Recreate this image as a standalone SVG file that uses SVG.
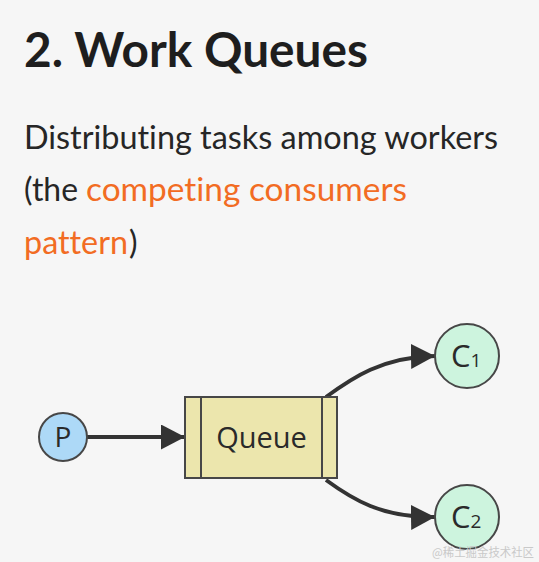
<svg xmlns="http://www.w3.org/2000/svg" width="539" height="562" viewBox="0 0 539 562">
<defs>
<style>
.title{font-family:Lato,"Open Sans","Liberation Sans",sans-serif;font-weight:700;fill:#1e1e1e;font-variant-ligatures:none}
.body{font-family:Lato,"Open Sans","Liberation Sans",sans-serif;font-weight:400;fill:#262626;font-variant-ligatures:none}
.link{fill:#f26c23}
.node{stroke:#474747;stroke-width:2}
.lbl{font-family:"Open Sans","Noto Sans","DejaVu Sans",sans-serif;fill:#2a2a2a}
.edge{fill:none;stroke:#333;stroke-width:4}
.wm{font-family:"Noto Sans CJK SC","Liberation Sans",sans-serif;fill:#c9c9c9;font-size:12px}
</style>
<marker id="ah" viewBox="0 0 24 25" refX="24" refY="12.5" markerWidth="24" markerHeight="25" markerUnits="userSpaceOnUse" orient="auto">
<path d="M0,0 L24,12.5 L0,25 Z" fill="#333"/>
</marker>
</defs>
<rect width="539" height="562" fill="#f6f6f6"/>
<text class="title" x="24" y="67" font-size="47" textLength="344" lengthAdjust="spacingAndGlyphs">2. Work Queues</text>
<text class="body" x="24" y="149" font-size="32" textLength="474" lengthAdjust="spacingAndGlyphs">Distributing tasks among workers</text>
<text class="body" y="201" font-size="32"><tspan x="24" textLength="54" lengthAdjust="spacingAndGlyphs">(the</tspan><tspan class="link" x="86" textLength="321" lengthAdjust="spacingAndGlyphs">competing consumers</tspan></text>
<text class="body" y="254" font-size="32"><tspan class="link" x="24" textLength="104" lengthAdjust="spacingAndGlyphs">pattern</tspan><tspan x="129">)</tspan></text>
<g id="connectors">
<path class="edge" d="M87,437 L185,437" marker-end="url(#ah)"/>
<path class="edge" d="M326,397 C352,378 382,357 435,356" marker-end="url(#ah)"/>
<path class="edge" d="M326,480 C352,499 382,518 435,517" marker-end="url(#ah)"/>
</g>
<g id="P">
<circle class="node" cx="63" cy="437" r="24" fill="#add9f7"/>
<text class="lbl" x="63" y="447" font-size="28" text-anchor="middle">P</text>
</g>
<g id="Queue">
<rect class="node" x="185" y="397" width="152" height="81" fill="#ece6ad"/>
<line class="node" x1="201" y1="397" x2="201" y2="478"/>
<line class="node" x1="322" y1="397" x2="322" y2="478"/>
<text class="lbl" x="261.5" y="448" font-size="29" text-anchor="middle">Queue</text>
</g>
<g id="C1">
<circle class="node" cx="467" cy="356" r="32" fill="#cdf4de"/>
<text class="lbl" x="451" y="367" font-size="31">C<tspan font-size="19">1</tspan></text>
</g>
<g id="C2">
<circle class="node" cx="467" cy="517" r="32" fill="#cdf4de"/>
<text class="lbl" x="451" y="528" font-size="31">C<tspan font-size="19">2</tspan></text>
</g>
<text class="wm" x="432" y="557" textLength="102" lengthAdjust="spacingAndGlyphs">@稀土掘金技术社区</text>
</svg>
